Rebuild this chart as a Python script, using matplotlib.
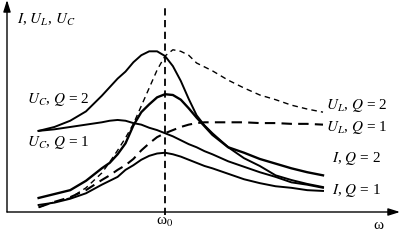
import matplotlib
matplotlib.use("Agg")
import matplotlib.pyplot as plt

plt.rcParams["font.family"] = ["Liberation Serif", "DejaVu Serif"]
plt.rcParams["mathtext.fontset"] = "stix"

# frequency in units of the resonance frequency w0 (finer steps near the peak)
omega = [0.2, 0.3, 0.4, 0.5, 0.6, 0.65, 0.7, 0.75, 0.8, 0.85, 0.9, 0.95, 1.0,
         1.05, 1.1, 1.15, 1.2, 1.25, 1.3, 1.4, 1.5, 1.6, 1.7, 1.8, 1.9, 2.0]

# amplitudes (input voltage U = 1)
uc_q2 = [1.04, 1.09, 1.17, 1.29, 1.49, 1.60, 1.71, 1.80, 1.92, 2.01, 2.06, 2.06, 2.00,
         1.87, 1.68, 1.45, 1.24, 1.11, 1.01, 0.83, 0.69, 0.59, 0.47, 0.41, 0.36, 0.32]
uc_q1 = [1.04, 1.06, 1.09, 1.12, 1.15, 1.17, 1.18, 1.17, 1.14, 1.12, 1.08, 1.05, 1.01,
         0.97, 0.92, 0.87, 0.83, 0.78, 0.74, 0.65, 0.58, 0.51, 0.45, 0.38, 0.35, 0.31]
ul_q2 = [0.06, 0.13, 0.18, 0.31, 0.50, 0.64, 0.79, 0.95, 1.13, 1.36, 1.59, 1.82, 2.00,
         2.08, 2.06, 2.01, 1.91, 1.86, 1.81, 1.69, 1.59, 1.50, 1.44, 1.37, 1.32, 1.28]
ul_q1 = [0.06, 0.13, 0.19, 0.28, 0.41, 0.47, 0.54, 0.60, 0.68, 0.79, 0.88, 0.96, 1.01,
         1.05, 1.09, 1.12, 1.14, 1.15, 1.15, 1.15, 1.15, 1.14, 1.14, 1.13, 1.13, 1.12]
i_q2 = [0.18, 0.23, 0.28, 0.40, 0.56, 0.63, 0.74, 0.88, 1.11, 1.28, 1.38, 1.47, 1.51,
        1.50, 1.44, 1.33, 1.21, 1.10, 0.99, 0.83, 0.76, 0.68, 0.62, 0.56, 0.51, 0.47]
i_q1 = [0.09, 0.12, 0.17, 0.24, 0.35, 0.40, 0.45, 0.54, 0.60, 0.67, 0.72, 0.75, 0.76,
        0.74, 0.71, 0.67, 0.63, 0.59, 0.56, 0.49, 0.42, 0.37, 0.33, 0.31, 0.28, 0.27]

fig = plt.figure(figsize=(4.02, 2.44), dpi=100)
ax = fig.add_axes([0, 0, 1, 1])
ax.set_xlim(-7 / 158, 395 / 158)
ax.set_ylim(-32 / 78, 212 / 78)
ax.axis("off")

# coordinate axes with arrow heads
arrow = dict(arrowstyle="-|>,head_length=0.7,head_width=0.22", color="black", lw=1.0,
             shrinkA=0, shrinkB=0)
ax.annotate("", xy=(0, 212 / 78), xytext=(0, 0), arrowprops=arrow)
ax.annotate("", xy=(393 / 158, 0), xytext=(0, 0), arrowprops=arrow)

# resonance line
ax.plot([1, 1], [-0.04, 2.62], color="black", lw=1.3, ls=(0, (4, 2.5)))

for y in (uc_q2, uc_q1, i_q1):
    ax.plot(omega, y, color="black", lw=1.4, solid_joinstyle="round")
ax.plot(omega, i_q2, color="black", lw=1.7, solid_joinstyle="round")
ax.plot(omega, ul_q2, color="black", lw=1.0, ls=(0, (4, 3)))
ax.plot(omega, ul_q1, color="black", lw=1.5, ls=(0, (5, 3)))

fs = 11
ax.text(0.063, 2.46, r"$I$, $U_L$, $U_C$", fontsize=fs, va="center")
ax.text(0.127, 1.44, r"$U_C$, $Q$ = 2", fontsize=fs, va="center")
ax.text(0.127, 0.885, r"$U_C$, $Q$ = 1", fontsize=fs, va="center")
ax.text(2.02, 1.37, r"$U_L$, $Q$ = 2", fontsize=fs, va="center")
ax.text(2.02, 1.08, r"$U_L$, $Q$ = 1", fontsize=fs, va="center")
ax.text(2.057, 0.69, r"$I$, $Q$ = 2", fontsize=fs, va="center")
ax.text(2.057, 0.28, r"$I$, $Q$ = 1", fontsize=fs, va="center")
ax.text(1.0, -0.13, r"ω$_0$", fontsize=fs, ha="center", va="center")
ax.text(2.35, -0.17, "ω", fontsize=fs, ha="center", va="center")

fig.savefig("out.png", dpi=100)
